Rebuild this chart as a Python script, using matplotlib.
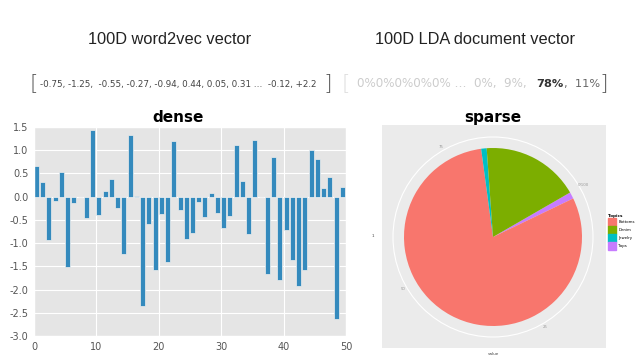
import numpy as np
import matplotlib
matplotlib.use("Agg")
import matplotlib.pyplot as plt
from matplotlib.patches import Circle

# word2vec vector (first 50 dims)
dims = np.arange(50)
w2v = [0.67, 0.31, -0.93, -0.09, 0.54, -1.52, -0.14, 0.0, -0.46, 1.43,
       -0.40, 0.13, 0.38, -0.24, -1.23, 1.33, 0.02, -2.35, -0.58, -1.57,
       -0.38, -1.41, 1.19, -0.29, -0.91, -0.78, -0.11, -0.44, 0.08, -0.36,
       -0.68, -0.42, 1.12, 0.34, -0.81, 1.23, -0.01, -1.66, 0.86, -1.80,
       -0.71, -1.36, -1.93, -1.57, 1.01, 0.82, 0.18, 0.42, -2.63, 0.21]
yticks = np.arange(-3.0, 1.51, 0.5)
xticks = [0, 10, 20, 30, 40, 50]

# LDA topics
topics = ["Bottoms", "Denim", "Jewelry", "Tops"]
topic_colors = ["#F8766D", "#7CAE00", "#00BFC4", "#C77CFF"]
shares = [80.0, 17.8, 1.0, 1.2]
pie_order = ["Tops", "Bottoms", "Jewelry", "Denim"]  # clockwise from 0/100
theta_ticks = [0, 25, 50, 75]
theta_labels = ["0/100", "25", "50", "75"]

W, H = 638, 359
fig = plt.figure(figsize=(W / 100, H / 100), dpi=100)
fig.patch.set_facecolor("white")

def fx(px):
    return px / W

def fy(py):
    return 1 - py / H

# headers
fig.text(fx(170), fy(40), "100D word2vec vector", ha="center", va="center",
         fontsize=11.8, color="#222222", family="Liberation Sans")
fig.text(fx(475), fy(40), "100D LDA document vector", ha="center", va="center",
         fontsize=11.8, color="#222222", family="Liberation Sans")

# vectors
fig.text(fx(29), fy(83), "[", ha="left", va="center", fontsize=16,
         color="#555555", weight="light")
fig.text(fx(40), fy(84), "-0.75, -1.25,  -0.55, -0.27, -0.94, 0.44, 0.05, 0.31 \u2026  -0.12, +2.2",
         ha="left", va="center", fontsize=6.35, color="#444444")
fig.text(fx(323), fy(83), "]", ha="left", va="center", fontsize=16,
         color="#555555", weight="light")

fig.text(fx(342), fy(83), "[", ha="left", va="center", fontsize=16,
         color="#dddddd", weight="light")
fig.text(fx(357), fy(84), "0%0%0%0%0% \u2026  0%,  9%,", ha="left", va="center",
         fontsize=8.6, color="#cccccc")
fig.text(fx(536), fy(84), "78%", ha="left", va="center", fontsize=8.2,
         color="#333333", weight="bold")
fig.text(fx(564), fy(84), ",  11%", ha="left", va="center", fontsize=8.2,
         color="#666666")
fig.text(fx(599), fy(83), "]", ha="left", va="center", fontsize=16,
         color="#555555", weight="light")

# dense bar chart
with plt.style.context("ggplot"):
    ax1 = fig.add_axes([fx(34), fy(336), fx(346) - fx(34), fy(127) - fy(336)])
    ax1.bar(dims, w2v, width=0.8, align="edge", color="#348ABD",
            edgecolor="#EEEEEE", linewidth=0.5)
    ax1.set_xlim(0, 50)
    ax1.set_ylim(-3.0, 1.5)
    ax1.set_yticks(yticks)
    ax1.set_yticklabels(["%.1f" % v for v in yticks])
    ax1.set_xticks(xticks)
    ax1.tick_params(labelsize=7, colors="#555555", length=0, pad=4)
    ax1.set_axisbelow(True)
fig.text(fx(178), fy(117), "dense", ha="center", va="center", fontsize=11,
         weight="bold", color="black")

# sparse pie (ggplot coord_polar look)
ax2 = fig.add_axes([fx(382), fy(348), fx(606) - fx(382), fy(125) - fy(348)])
ax2.set_facecolor("#EBEBEB")
cmap = dict(zip(topics, topic_colors))
vals = dict(zip(topics, shares))
start = 60  # clockwise from 12 o'clock
ax2.pie([vals[t] for t in pie_order], colors=[cmap[t] for t in pie_order],
        startangle=90 - start, counterclock=False, radius=89, center=(0, 0),
        frame=True, wedgeprops=dict(linewidth=0))
ax2.add_patch(Circle((0, 0), 100, fill=False, ec="white", lw=0.8, zorder=0.5))
for v, lab in zip(theta_ticks, theta_labels):
    ang = np.deg2rad(90 - (start + v * 3.6))
    ax2.text(104 * np.cos(ang), 104 * np.sin(ang), lab, ha="center",
             va="center", fontsize=2.8, color="#999999")
ax2.set_xlim(-111, 113)
ax2.set_ylim(-111, 112)
ax2.set_aspect("auto")
ax2.set_xticks([])
ax2.set_yticks([])
for s in ax2.spines.values():
    s.set_visible(False)
fig.text(fx(493), fy(118), "sparse", ha="center", va="center", fontsize=11,
         weight="bold", color="black")
fig.text(fx(493), fy(354), "value", ha="center", va="center", fontsize=3,
         color="#444444")
fig.text(fx(373), fy(236), "1", ha="center", va="center", fontsize=3,
         color="#444444")

handles = [plt.Rectangle((0, 0), 1, 1, color=c) for c in topic_colors]
leg = fig.legend(handles, topics, loc="upper left",
                 bbox_to_anchor=(fx(607), fy(213)), frameon=False,
                 fontsize=2.8, title="Topics", title_fontsize=3,
                 handlelength=2.05, handleheight=2.8, labelspacing=0.0,
                 handletextpad=0.6, alignment="left", borderaxespad=0,
                 borderpad=0.3)
leg.get_title().set_weight("bold")

fig.savefig("out.png", dpi=100)
